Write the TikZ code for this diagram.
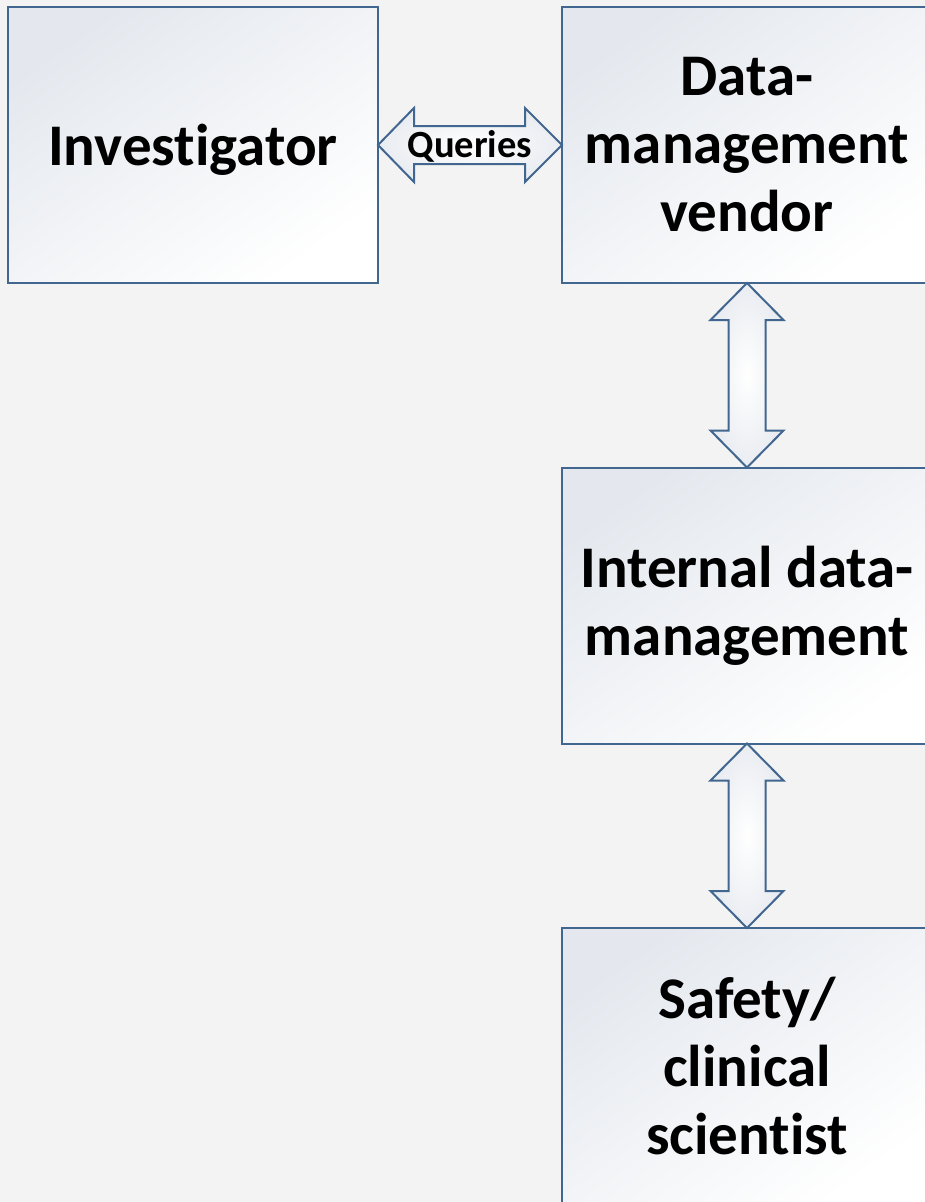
\documentclass[tikz,border=0pt]{standalone}
\usepackage{fontspec}
\setmainfont{Carlito}[Ligatures=NoCommon]
\usetikzlibrary{calc}
\definecolor{bg}{HTML}{F3F3F3}
\definecolor{edge}{HTML}{41668F}
\definecolor{boxg}{HTML}{E4E8EE}
\definecolor{arrg}{HTML}{E9ECF1}
\tikzset{
  box/.style={draw=edge, line width=2pt, minimum width=370pt, minimum height=276pt,
    inner sep=0pt, outer sep=0pt, top color=boxg, bottom color=white, shading angle=35,
    align=center, font=\fontsize{59}{68}\selectfont\bfseries},
  dblarrow/.style={draw=edge, line width=2pt, line join=miter, inner color=white, outer color=arrg},
  lbl/.style={font=\fontsize{38.5}{42}\selectfont\bfseries, inner sep=0pt}
}
\begin{document}
\begin{tikzpicture}[x=1pt,y=-1pt]
\useasboundingbox (0,0) rectangle (925,1202);
\fill[bg] (0,0) rectangle (925,1202);
\clip (0,0) rectangle (925,1202);
\node[box, text depth=-4pt] (inv) at (193,145) {Investigator};
\node[box] (ven) at (747,145) {Data-\\management\\vendor};
\node[box] (int) at (747,605.5) {Internal data-\\management};
\node[box] (saf) at (747,1066) {Safety/\\clinical\\scientist};
% horizontal double arrow Investigator <-> vendor
\draw[dblarrow] (inv.east) -- ++(36,-37) -- ++(0,18) -- ($(ven.west)+(-37,-19)$) -- ++(0,-18)
  -- (ven.west) -- ++(-37,37) -- ++(0,-18) -- ($(inv.east)+(36,19)$) -- ++(0,18) -- cycle;
\node[lbl] (q) at ($(inv.east)!0.5!(ven.west)+(0,1)$) {Queries};
% vertical double arrow vendor <-> internal
\draw[dblarrow] (ven.south) -- ++(36.5,37) -- ++(-18,0) -- ($(int.north)+(18.5,-37)$) -- ++(18,0)
  -- (int.north) -- ++(-36.5,-37) -- ++(18,0) -- ($(ven.south)+(-18.5,37)$) -- ++(-18,0) -- cycle;
% vertical double arrow internal <-> safety
\draw[dblarrow] (int.south) -- ++(36.5,37) -- ++(-18,0) -- ($(saf.north)+(18.5,-37)$) -- ++(18,0)
  -- (saf.north) -- ++(-36.5,-37) -- ++(18,0) -- ($(int.south)+(-18.5,37)$) -- ++(-18,0) -- cycle;
\end{tikzpicture}
\end{document}
